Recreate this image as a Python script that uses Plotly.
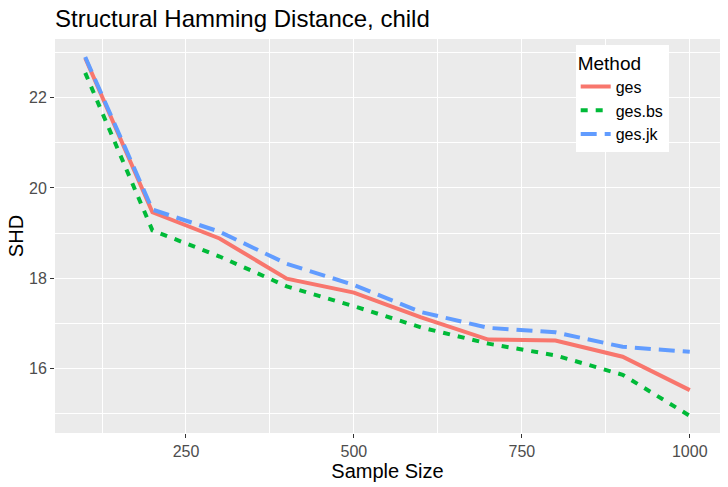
import plotly.graph_objects as go

# SHD by sample size for the child network
sample_size = [100, 200, 300, 400, 500, 600, 700, 800, 900, 1000]
shd_ges = [22.88, 19.46, 18.88, 17.99, 17.68, 17.13, 16.64, 16.62, 16.26, 15.52]
shd_ges_bs = [22.55, 19.06, 18.48, 17.82, 17.38, 16.91, 16.55, 16.29, 15.86, 14.95]
shd_ges_jk = [22.9, 19.52, 19.03, 18.32, 17.85, 17.25, 16.9, 16.8, 16.48, 16.37]

font = "Liberation Sans, Arial, sans-serif"

fig = go.Figure()
fig.add_trace(go.Scatter(x=sample_size, y=shd_ges, mode="lines", name="ges",
                         line=dict(color="#F8766D", width=4)))
fig.add_trace(go.Scatter(x=sample_size, y=shd_ges_bs, mode="lines", name="ges.bs",
                         line=dict(color="#00BA38", width=4, dash="7px,8px")))
fig.add_trace(go.Scatter(x=sample_size, y=shd_ges_jk, mode="lines", name="ges.jk",
                         line=dict(color="#619CFF", width=4, dash="16px,8px")))

axis_style = dict(
    showline=False, zeroline=False, ticks="outside", ticklen=4, tickwidth=1,
    tickcolor="#333333", gridcolor="white", gridwidth=1.3, automargin=False,
    tickfont=dict(size=16, color="#4D4D4D", family=font),
)

fig.update_layout(
    width=728, height=487,
    margin=dict(l=55, r=8, t=39, b=54),
    paper_bgcolor="white", plot_bgcolor="#EBEBEB",
    font=dict(family=font, color="black"),
    title=dict(text="Structural Hamming Distance, child", x=55 / 728, xref="container",
               xanchor="left", y=1 - 19 / 487, yanchor="middle", font=dict(size=24, color="black")),
    xaxis=dict(axis_style, range=[55, 1045], tick0=0, dtick=250,
               minor=dict(dtick=125, tick0=0, showgrid=True, gridcolor="white", gridwidth=0.6, ticks=""),
               title=dict(text="Sample Size", font=dict(size=20), standoff=4)),
    yaxis=dict(axis_style, range=[14.57, 23.30], tick0=0, dtick=2,
               minor=dict(dtick=1, tick0=0, showgrid=True, gridcolor="white", gridwidth=0.6, ticks=""),
               title=dict(text="SHD", font=dict(size=20), standoff=0)),
    legend=dict(x=0.783, y=0.985, xanchor="left", yanchor="top", bgcolor="white",
                title=dict(text="Method", font=dict(size=19)), font=dict(size=16),
                tracegroupgap=0, itemwidth=30),
    showlegend=True,
)

# drop the default page margin so the figure fills the window
fig.write_html("out.html", config={"displayModeBar": False},
               post_script="document.body.style.margin = '0';")
